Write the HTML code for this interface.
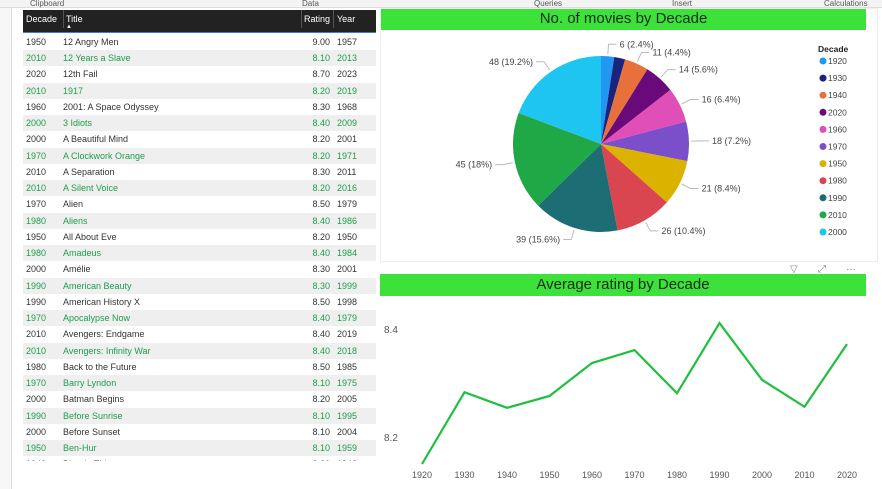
<!DOCTYPE html>
<html><head><meta charset="utf-8"><style>
body{margin:0;width:882px;height:489px;overflow:hidden;background:#fff;font-family:"Liberation Sans",sans-serif;position:relative}
.abs{position:absolute}
.row{position:absolute;left:23px;width:353px;height:16px;font-size:9px;line-height:16px;color:#333}
.row.alt{background:#efefef;color:#1e9e4a}
.row span{position:absolute}
.tb{position:absolute;top:0;font-size:8px;color:#555;line-height:8px}
</style></head><body>
<div class="abs" style="left:0;top:0;width:882px;height:7px;background:#f4f4f4;border-bottom:1px solid #ddd"></div>
<div class="tb" style="left:30px">Clipboard</div>
<div class="tb" style="left:302px">Data</div>
<div class="tb" style="left:534px">Queries</div>
<div class="tb" style="left:672px">Insert</div>
<div class="tb" style="left:824px">Calculations</div>
<div class="abs" style="left:0;top:8px;width:11px;height:481px;background:#f7f7f7;border-right:1px solid #ddd"></div>

<div class="abs" style="left:23px;top:10px;width:353px;height:22px;background:#222;color:#fff;font-size:9px;line-height:18px;border-bottom:1px solid #3a7bd5">
<span class="abs" style="left:3px">Decade</span>
<span class="abs" style="left:40px;border-left:1px solid #555;padding-left:2px">Title<br></span>
<span class="abs" style="left:43px;top:8px;font-size:6px">▲</span>
<span class="abs" style="left:278px;border-left:1px solid #555;padding-left:2px">Rating</span>
<span class="abs" style="left:310px;border-left:1px solid #555;padding-left:3px">Year</span>
</div>
<div id="rows"></div>

<div class="abs" style="left:380px;top:8px;width:496px;height:252px;border:1px solid #eee"></div>
<div class="abs" style="left:381px;top:9px;width:485px;height:21px;background:#3ce23a;font-size:15px;line-height:20px;text-align:center;color:#1a2a1a">No. of movies by Decade</div>
<svg class="abs" style="left:0;top:0" width="882" height="489" id="svg"></svg>
<div class="abs" style="left:380px;top:274px;width:486px;height:22px;background:#3ce23a;font-size:15px;line-height:21px;text-align:center;color:#1a2a1a">Average rating by Decade</div>
<div class="abs" style="left:790px;top:264px;font-size:10px;color:#888">▽</div>
<div class="abs" style="left:818px;top:264px;font-size:10px;color:#888">⤢</div>
<div class="abs" style="left:846px;top:264px;font-size:10px;color:#888">···</div>

<script>
const decades=["1950","2010","2020","2010","1960","2000","2000","1970","2010","2010","1970","1980","1950","1980","2000","1990","1990","1970","2010","2010","1980","1970","2000","1990","2000","1950"];
const titles=["12 Angry Men","12 Years a Slave","12th Fail","1917","2001: A Space Odyssey","3 Idiots","A Beautiful Mind","A Clockwork Orange","A Separation","A Silent Voice","Alien","Aliens","All About Eve","Amadeus","Amélie","American Beauty","American History X","Apocalypse Now","Avengers: Endgame","Avengers: Infinity War","Back to the Future","Barry Lyndon","Batman Begins","Before Sunrise","Before Sunset","Ben-Hur"];
const ratings=["9.00","8.10","8.70","8.20","8.30","8.40","8.20","8.20","8.30","8.20","8.50","8.40","8.20","8.40","8.30","8.30","8.50","8.40","8.40","8.40","8.50","8.10","8.20","8.10","8.10","8.10"];
const years=["1957","2013","2023","2019","1968","2009","2001","1971","2011","2016","1979","1986","1950","1984","2001","1999","1998","1979","2019","2018","1985","1975","2005","1995","2004","1959"];
const pieLabels=["1920","1930","1940","2020","1960","1970","1950","1980","1990","2010","2000"];
const pieValues=[6,5,11,14,16,18,21,26,39,45,48];
const pieColors=["#2196f3","#1a237e","#e8703a","#6a0a7a","#e04fb7","#7b4fc9","#dcb200","#d9464f","#1c6e74","#1fa845","#1ec5f0"];
const pieText=["6 (2.4%)",null,"11 (4.4%)","14 (5.6%)","16 (6.4%)","18 (7.2%)","21 (8.4%)","26 (10.4%)","39 (15.6%)","45 (18%)","48 (19.2%)"];
const lineCats=["1920","1930","1940","1950","1960","1970","1980","1990","2000","2010","2020"];
const lineVals=[8.15,8.283,8.254,8.276,8.337,8.361,8.281,8.411,8.306,8.256,8.372];
const yTicks=[8.2,8.4];

const rowsEl=document.getElementById('rows');
decades.forEach((d,i)=>{
 const r=document.createElement('div');
 r.className='row'+(i%2?' alt':'');
 
 
 r.style.top=(34+i*16.24)+'px';
 r.innerHTML=`<span style="left:3px">${d}</span><span style="left:40px">${titles[i]}</span><span style="right:46px">${ratings[i]}</span><span style="left:314px">${years[i]}</span>`;
 rowsEl.appendChild(r);
});
const part=document.createElement('div');part.className='row';part.style.top=(34+26*16.24)+'px';part.style.height='5px';part.style.overflow='hidden';


part.innerHTML='<span style="left:3px">1940</span><span style="left:40px">Bicycle Thieves</span><span style="right:46px">8.30</span><span style="left:314px">1948</span>';
rowsEl.appendChild(part);

const svg=document.getElementById('svg');const NS='http://www.w3.org/2000/svg';
function el(t,a,name,inter){const e=document.createElementNS(NS,t);for(const k in a)e.setAttribute(k,a[k]);
 
 
 svg.appendChild(e);return e;}
// pie
const cx=601,cy=144,R=88;const tot=pieValues.reduce((a,b)=>a+b,0);
let ang=0;
pieValues.forEach((v,i)=>{
 const a0=ang,a1=ang+v/tot*2*Math.PI;ang=a1;
 const p=(a)=>[cx+R*Math.sin(a),cy-R*Math.cos(a)];
 const [x0,y0]=p(a0),[x1,y1]=p(a1);
 el('path',{d:`M${cx},${cy}L${x0},${y0}A${R},${R} 0 ${a1-a0>Math.PI?1:0} 1 ${x1},${y1}Z`,fill:pieColors[i]},'pie-slice-'+pieLabels[i],true);
 if(pieText[i]){const m=(a0+a1)/2;const sx=cx+(R+2)*Math.sin(m),sy=cy-(R+2)*Math.cos(m);
  const ex=cx+(R+12)*Math.sin(m),ey=cy-(R+12)*Math.cos(m);const right=Math.sin(m)>=0;const hx=ex+(right?8:-8);
  el('polyline',{points:`${sx},${sy} ${ex},${ey} ${hx},${ey}`,fill:'none',stroke:'#bbb','stroke-width':1},'pie-leader',false);
  const t=el('text',{x:hx+(right?3:-3),y:ey+3,'font-size':9,fill:'#444','text-anchor':right?'start':'end'},'pie-data-label',false);t.textContent=pieText[i];}
});
const lt=el('text',{x:818,y:52,'font-size':8.5,'font-weight':'bold',fill:'#222'},'legend-title',false);lt.textContent='Decade';
pieLabels.forEach((l,i)=>{const y=64+i*17.1;
 el('circle',{cx:823,cy:y-3,r:3.5,fill:pieColors[i]},'legend-marker',false);
 const t=el('text',{x:828,y:y,'font-size':8.5,fill:'#444'},'legend-entry',true);t.textContent=l;});
// line
const x0=422,dx=42.5;const yS=v=>329-(v-8.4)/0.2*108;
yTicks.forEach(v=>{const t=el('text',{x:384,y:yS(v)+4,'font-size':10,fill:'#555'},'y-tick-label',false);t.textContent=v.toFixed(1);});
lineCats.forEach((c,i)=>{const t=el('text',{x:x0+i*dx,y:478,'font-size':9,fill:'#555','text-anchor':'middle'},'x-tick-label',false);t.textContent=c;});
el('polyline',{points:lineVals.map((v,i)=>`${x0+i*dx},${yS(v)}`).join(' '),fill:'none',stroke:'#1fbf3f','stroke-width':2.2},'rating-line',true);
</script>
</body></html>
